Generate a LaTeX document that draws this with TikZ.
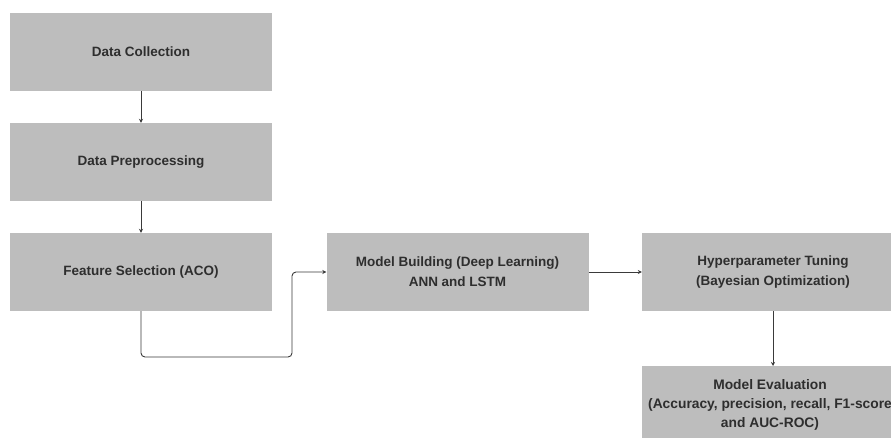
\documentclass[tikz,border=0pt]{standalone}
\usepackage{fontspec}
\setmainfont{Liberation Sans}
\usetikzlibrary{arrows.meta,calc}
\definecolor{boxgray}{HTML}{BDBDBD}
\definecolor{txtgray}{HTML}{2E2E2E}
\definecolor{arrgray}{HTML}{3A3A3A}
\begin{document}
\begin{tikzpicture}[x=1pt,y=-1pt,
  stepbox/.style={fill=boxgray, draw=none, minimum width=262pt, minimum height=78pt,
    inner sep=0pt, align=center, text=txtgray,
    font=\fontsize{13.5}{20}\selectfont\bfseries},
  conn/.style={draw=arrgray, line width=0.9pt, -{Stealth[length=4pt,width=4pt]}}]
\useasboundingbox (0,0) rectangle (891,437);
\begin{scope}
\clip (0,0) rectangle (891,437);
\node[stepbox] (dc) at (141,52) {Data Collection};
\node[stepbox] (dp) at (141,162) {Data Preprocessing};
\node[stepbox] (fs) at (141,272) {Feature Selection (ACO)};
\node[stepbox] (mb) at (457.5,272) {Model Building (Deep Learning)\\ANN and LSTM};
\node[stepbox] (ht) at (773,272) {Hyperparameter Tuning\\(Bayesian Optimization)};
\node[stepbox, anchor=north, minimum height=90pt, text depth=0pt] (me) at (773,366) {};
\node[text=txtgray, font=\fontsize{13.8}{19}\selectfont\bfseries, align=center, anchor=north] (metext) at (770,376)
  {Model Evaluation\\(Accuracy, precision, recall, F1-score\\and AUC-ROC)};
\end{scope}
\coordinate (c1) at (141,357);
\coordinate (c2) at (292,357);
\coordinate (c3) at (292,272);
\draw[conn] (dc.south) -- (dp.north);
\draw[conn] (dp.south) -- (fs.north);
\draw[conn, rounded corners=4pt] (fs.south) -- (c1) -- (c2) -- (c3) -- (mb.west);
\draw[conn] (mb.east) -- (ht.west);
\draw[conn] (ht.south) -- (me.north);
\end{tikzpicture}
\end{document}
